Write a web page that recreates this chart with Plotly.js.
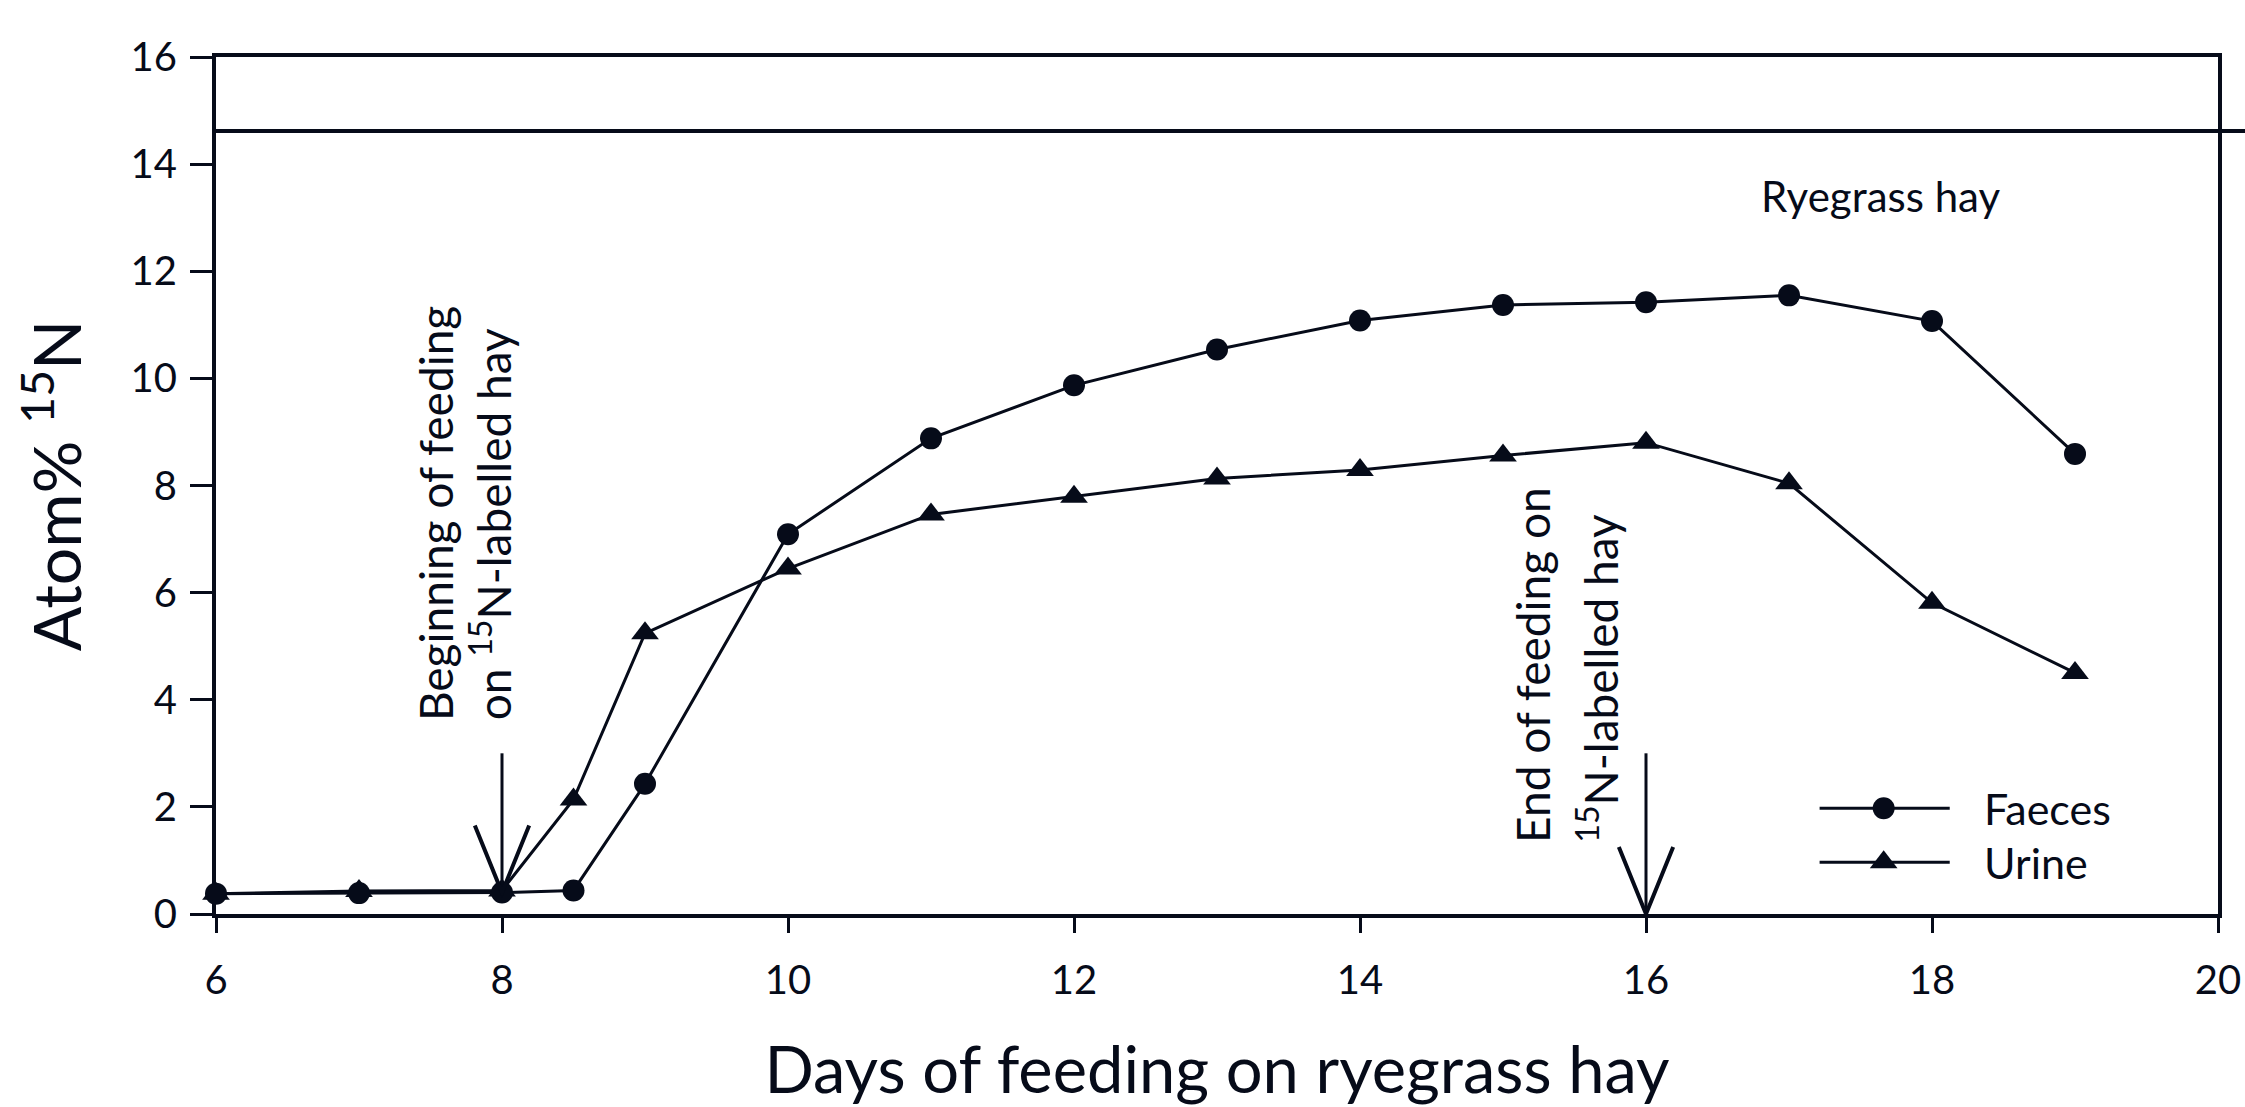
<!DOCTYPE html>
<html>
<head>
<meta charset="utf-8">
<script src="https://cdn.plot.ly/plotly-3.0.1.min.js"></script>
<style>
  html, body { margin: 0; padding: 0; background: #ffffff; }
  #chart { width: 2245px; height: 1107px; }
</style>
</head>
<body>
<div id="chart"></div>
<script>
// ---- data ----
const days   = [6, 7, 8, 8.5, 9, 10, 11, 12, 13, 14, 15, 16, 17, 18, 19];
const faeces = [0.38, 0.39, 0.40, 0.44, 2.43, 7.09, 8.88, 9.87, 10.54, 11.08, 11.37, 11.42, 11.55, 11.07, 8.59];
const urine  = [0.38, 0.43, 0.44, 2.14, 5.24, 6.45, 7.46, 7.79, 8.13, 8.29, 8.56, 8.80, 8.04, 5.81, 4.50];
const seriesNames = ["Faeces", "Urine"];

const ryegrassLevel = [14.62];
const ryegrassLabel = ["Ryegrass hay"];

const arrowDays = [8, 16];
const arrowTail = [3.0, 3.0];
const arrowTip  = [0.40, 0.0];

const noteLine1 = ["Beginning of feeding", "End of feeding on"];
const noteLine2 = ["on <sup>15</sup>N-labelled hay", "<sup>15</sup>N-labelled hay"];

const xTicks = [6, 8, 10, 12, 14, 16, 18, 20];
const yTicks = [0, 2, 4, 6, 8, 10, 12, 14, 16];

// ---- styling ----
const INK = "#060b19";
const FONT = "Lato, 'Open Sans', sans-serif";

const traces = [
  {
    x: days, y: urine, name: seriesNames[1], type: "scatter", mode: "lines+markers",
    line: {color: INK, width: 3}, marker: {symbol: "triangle-up", size: 24, color: INK, opacity: 1},
    showlegend: false, cliponaxis: false
  },
  {
    x: days, y: faeces, name: seriesNames[0], type: "scatter", mode: "lines+markers",
    line: {color: INK, width: 3}, marker: {symbol: "circle", size: 22, color: INK, opacity: 1},
    showlegend: false, cliponaxis: false
  }
];

// custom legend (long key lines with centred marker), drawn on an overlay axis spanning the plot
const legendKeyX = [0.801, 0.866];
const legendMarkX = 0.833;
const legendRows = [0.1235, 0.0605];
const legendSymbols = ["circle", "triangle-up"];
const legendSizes = [22, 24];
seriesNames.forEach((nm, i) => {
  traces.push({
    x: legendKeyX, y: legendKeyX.map(() => legendRows[i]),
    xaxis: "x2", yaxis: "y2", type: "scatter", mode: "lines",
    line: {color: INK, width: 3},
    showlegend: false, hoverinfo: "skip", cliponaxis: false
  });
  traces.push({
    x: [legendMarkX], y: [legendRows[i]],
    xaxis: "x2", yaxis: "y2", type: "scatter", mode: "markers",
    marker: {symbol: legendSymbols[i], size: legendSizes[i], color: INK, opacity: 1,
             line: {width: 0}},
    showlegend: false, hoverinfo: "skip", cliponaxis: false
  });
});

const shapes = [];
// ryegrass hay reference line
ryegrassLevel.forEach(v => {
  shapes.push({type: "line", xref: "paper", yref: "y", x0: 0, x1: 1.02, y0: v, y1: v,
               line: {color: INK, width: 4}, layer: "above"});
});
// feeding arrows
arrowDays.forEach((d, i) => {
  shapes.push({type: "line", xref: "x", yref: "y", x0: d, x1: d, y0: arrowTail[i], y1: arrowTip[i],
               line: {color: INK, width: 3}});
  const wx = 0.19, wy = 1.25;
  shapes.push({type: "path", xref: "x", yref: "y",
               path: `M${d - wx},${arrowTip[i] + wy} L${d},${arrowTip[i]} L${d + wx},${arrowTip[i] + wy}`,
               line: {color: INK, width: 4}});
});

const NOTE_SIZE = 46;
const annotations = [];
annotations.push({
  xref: "x", yref: "y", x: 17.64, y: 13.4, text: ryegrassLabel[0], showarrow: false,
  xanchor: "center", yanchor: "middle", font: {family: FONT, size: 42, color: INK}
});
const noteX1 = [7.53, 15.21];
const noteX2 = [7.92, 15.66];
const noteBottom = [3.57, 1.29];
arrowDays.forEach((d, i) => {
  annotations.push({xref: "x", yref: "y", x: noteX1[i], y: noteBottom[i], text: noteLine1[i],
    textangle: -90, showarrow: false, xanchor: "center", yanchor: "bottom",
    font: {family: FONT, size: NOTE_SIZE, color: INK}});
  annotations.push({xref: "x", yref: "y", x: noteX2[i], y: noteBottom[i], text: noteLine2[i],
    textangle: -90, showarrow: false, xanchor: "center", yanchor: "bottom",
    font: {family: FONT, size: NOTE_SIZE, color: INK}});
});
seriesNames.forEach((nm, i) => {
  annotations.push({xref: "paper", yref: "paper", x: 0.882, y: legendRows[i], text: nm,
    showarrow: false, xanchor: "left", yanchor: "middle",
    font: {family: FONT, size: 43, color: INK}});
});

const layout = {
  width: 2245, height: 1107,
  margin: {l: 216, r: 27, t: 57, b: 193, pad: 0},
  paper_bgcolor: "#ffffff", plot_bgcolor: "#ffffff",
  font: {family: FONT, color: INK},
  showlegend: false,
  xaxis: {
    range: [6, 20], tickvals: xTicks, ticktext: xTicks.map(String),
    showgrid: false, zeroline: false,
    showline: true, linecolor: INK, linewidth: 4, mirror: true,
    ticks: "outside", ticklen: 15, tickwidth: 3, tickcolor: INK,
    tickfont: {family: FONT, size: 40, color: INK}, ticklabelstandoff: 13,
    title: {text: "Days of feeding on ryegrass hay", font: {family: FONT, size: 65, color: INK}, standoff: 46}
  },
  yaxis: {
    range: [0, 16], tickvals: yTicks, ticktext: yTicks.map(String),
    showgrid: false, zeroline: false,
    showline: true, linecolor: INK, linewidth: 4, mirror: true,
    ticks: "outside", ticklen: 22, tickwidth: 3, tickcolor: INK,
    tickfont: {family: FONT, size: 40, color: INK}, ticklabelstandoff: 5,
    title: {text: "Atom% <sup>15</sup>N", font: {family: FONT, size: 66, color: INK}, standoff: 28}
  },
  xaxis2: {overlaying: "x", range: [0, 1], visible: false, fixedrange: true},
  yaxis2: {overlaying: "y", range: [0, 1], visible: false, fixedrange: true},
  shapes: shapes,
  annotations: annotations
};

Plotly.newPlot("chart", traces, layout, {displayModeBar: false, staticPlot: true});
</script>
</body>
</html>
